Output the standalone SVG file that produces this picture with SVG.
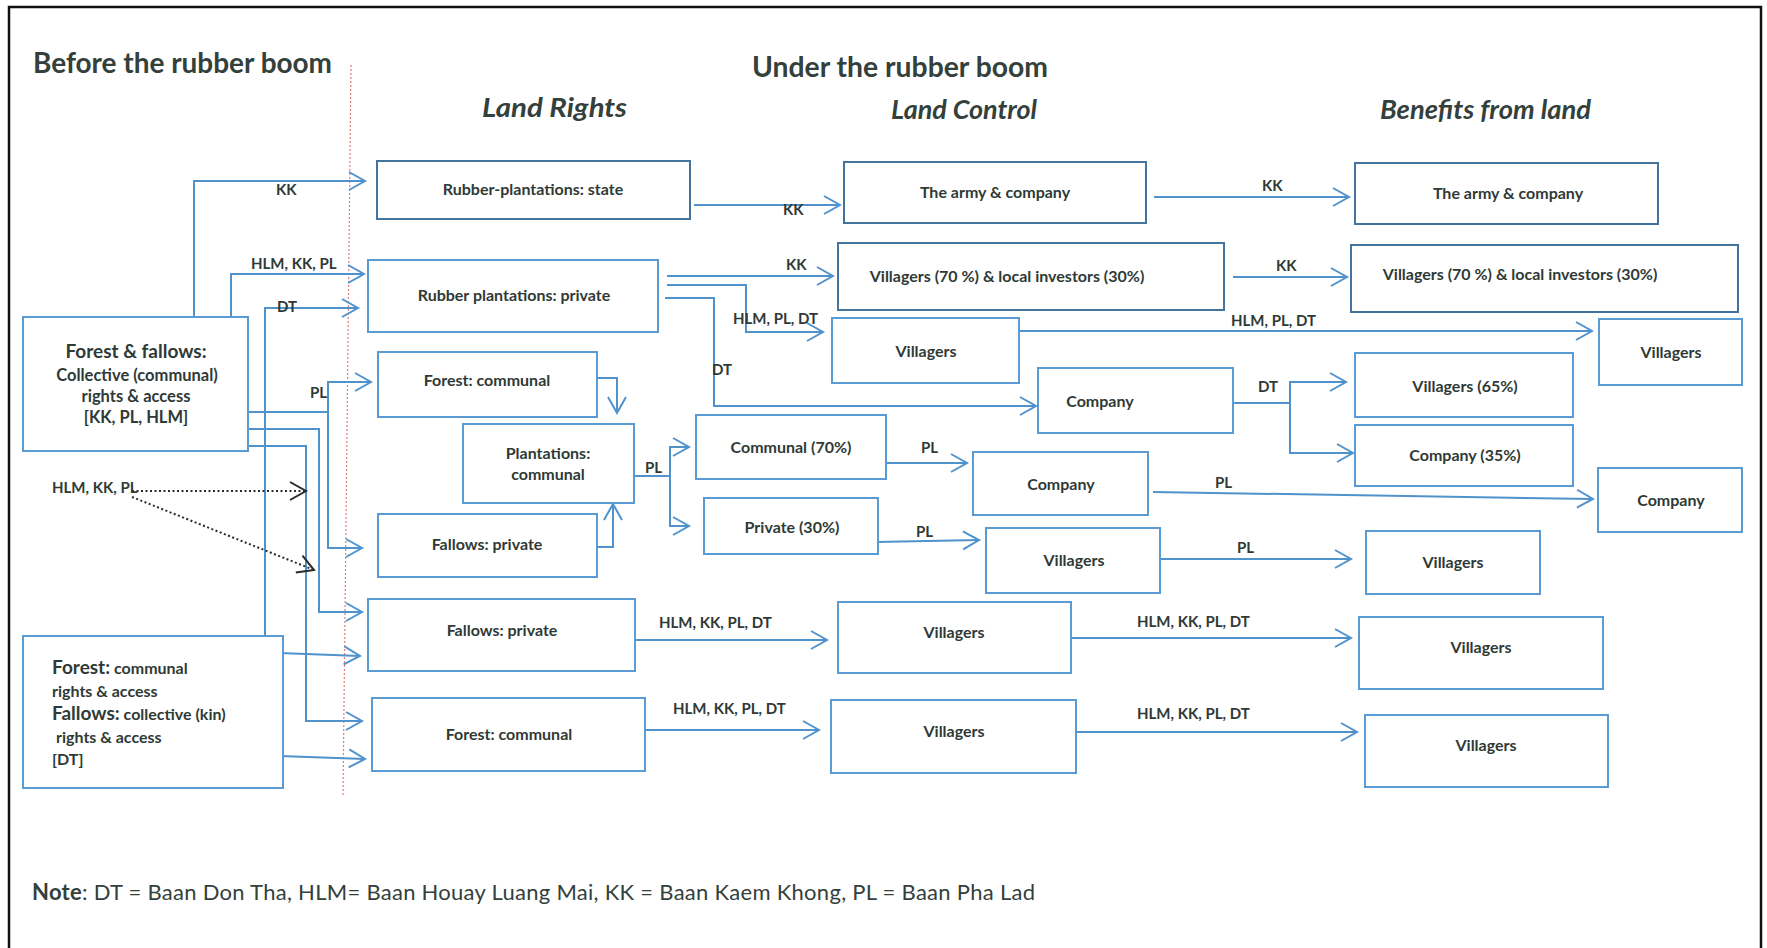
<svg xmlns="http://www.w3.org/2000/svg" width="1767" height="948" viewBox="0 0 1767 948">
<defs>
<marker id="ar" markerUnits="userSpaceOnUse" markerWidth="20" markerHeight="22" viewBox="0 0 20 22" refX="17" refY="11" orient="auto"><path d="M1,2 L17,11 L1,20" fill="none" stroke="#4f92cc" stroke-width="2"/></marker>
<marker id="ad" markerUnits="userSpaceOnUse" markerWidth="20" markerHeight="22" viewBox="0 0 20 22" refX="17" refY="11" orient="auto"><path d="M1,2 L17,11 L1,20" fill="none" stroke="#2a2a2a" stroke-width="2"/></marker>
</defs>
<style>
.bx{fill:#fff;stroke:#5a9bd3;stroke-width:2}
.bd{fill:#fff;stroke:#44739e;stroke-width:2}
.t{font-family:Lato,"Liberation Sans",sans-serif;font-weight:bold;font-size:16px;fill:#2f3a36;text-anchor:middle}
.ts{font-family:Lato,"Liberation Sans",sans-serif;font-weight:bold;font-size:16px;fill:#2f3a36;text-anchor:start}
.l{font-family:Lato,"Liberation Sans",sans-serif;font-weight:bold;font-size:15px;fill:#2f3a36}
.h{font-family:Lato,"Liberation Sans",sans-serif;font-weight:bold;font-size:28px;fill:#34403b}
.hi{font-family:Lato,"Liberation Sans",sans-serif;font-weight:bold;font-style:italic;font-size:27px;fill:#34403b}
.c{fill:none;stroke:#4f92cc;stroke-width:2}
.d{fill:none;stroke:#2a2a2a;stroke-width:2;stroke-dasharray:2,2.5}
</style>
<rect width="1767" height="948" fill="#fff"/>
<rect x="9" y="7" width="1752" height="960" fill="none" stroke="#111" stroke-width="2.5"/>
<line x1="351" y1="65" x2="343" y2="797" stroke="#e27a7a" stroke-width="1.2" stroke-dasharray="2,2"/>

<g id="titles">
<text class="h" x="33" y="73" textLength="299" lengthAdjust="spacingAndGlyphs">Before the rubber boom</text>
<text class="h" x="752" y="77" textLength="296" lengthAdjust="spacingAndGlyphs">Under the rubber boom</text>
<text class="hi" x="482" y="117" textLength="145" lengthAdjust="spacingAndGlyphs">Land Rights</text>
<text class="hi" x="891" y="119" textLength="146" lengthAdjust="spacingAndGlyphs">Land Control</text>
<text class="hi" x="1380" y="119" textLength="211" lengthAdjust="spacingAndGlyphs">Benefits from land</text>
</g>

<g id="connectors">
<path class="c" d="M194,317 V181 H365" marker-end="url(#ar)"/>
<path class="c" d="M231,317 V274 H364" marker-end="url(#ar)"/>
<path class="c" d="M265,636 V308 H358" marker-end="url(#ar)"/>
<path class="c" d="M248,412 H328 V382 H371" marker-end="url(#ar)"/>
<path class="c" d="M328,412 V548 H362" marker-end="url(#ar)"/>
<path class="c" d="M248,429 H319 V612 H362" marker-end="url(#ar)"/>
<path class="c" d="M248,446 H306 V721 H362" marker-end="url(#ar)"/>
<path class="c" d="M279,653 L360,656" marker-end="url(#ar)"/>
<path class="c" d="M279,756 L365,759" marker-end="url(#ar)"/>
<path class="d" d="M132,491 H306" marker-end="url(#ad)"/>
<path class="d" d="M132,497 L314,570" marker-end="url(#ad)"/>
<path class="c" d="M597,378 H617 V413" marker-end="url(#ar)"/>
<path class="c" d="M597,547 H613 V504" marker-end="url(#ar)"/>
<path class="c" d="M634,476 H670 V447 H689" marker-end="url(#ar)"/>
<path class="c" d="M670,476 V526 H689" marker-end="url(#ar)"/>
<path class="c" d="M694,205 H840" marker-end="url(#ar)"/>
<path class="c" d="M667,276 H833" marker-end="url(#ar)"/>
<path class="c" d="M667,285 H746 V332 H823" marker-end="url(#ar)"/>
<path class="c" d="M665,298 H714 V406 H1036" marker-end="url(#ar)"/>
<path class="c" d="M884,463 H967" marker-end="url(#ar)"/>
<path class="c" d="M876,542 L979,540" marker-end="url(#ar)"/>
<path class="c" d="M635,640 H827" marker-end="url(#ar)"/>
<path class="c" d="M645,730 H819" marker-end="url(#ar)"/>
<path class="c" d="M1154,197 H1349" marker-end="url(#ar)"/>
<path class="c" d="M1233,277 H1347" marker-end="url(#ar)"/>
<path class="c" d="M1019,331 H1592" marker-end="url(#ar)"/>
<path class="c" d="M1233,403 H1290 V382 H1346" marker-end="url(#ar)"/>
<path class="c" d="M1290,403 V453 H1353" marker-end="url(#ar)"/>
<path class="c" d="M1153,492 L1593,499" marker-end="url(#ar)"/>
<path class="c" d="M1160,559 H1351" marker-end="url(#ar)"/>
<path class="c" d="M1071,638 H1351" marker-end="url(#ar)"/>
<path class="c" d="M1076,732 H1357" marker-end="url(#ar)"/>
<text class="l" x="276" y="195">KK</text>
<text class="l" x="251" y="269">HLM, KK, PL</text>
<text class="l" x="277" y="312">DT</text>
<text class="l" x="310" y="398">PL</text>
<text class="l" x="52" y="493">HLM, KK, PL</text>
<text class="l" x="645" y="473">PL</text>
<text class="l" x="783" y="215">KK</text>
<text class="l" x="786" y="270">KK</text>
<text class="l" x="733" y="324">HLM, PL, DT</text>
<text class="l" x="712" y="375">DT</text>
<text class="l" x="921" y="453">PL</text>
<text class="l" x="916" y="537">PL</text>
<text class="l" x="659" y="628">HLM, KK, PL, DT</text>
<text class="l" x="673" y="714">HLM, KK, PL, DT</text>
<text class="l" x="1262" y="191">KK</text>
<text class="l" x="1276" y="271">KK</text>
<text class="l" x="1231" y="326">HLM, PL, DT</text>
<text class="l" x="1258" y="392">DT</text>
<text class="l" x="1215" y="488">PL</text>
<text class="l" x="1237" y="553">PL</text>
<text class="l" x="1137" y="627">HLM, KK, PL, DT</text>
<text class="l" x="1137" y="719">HLM, KK, PL, DT</text>
</g>

<g id="n-before-1">
<rect class="bx" x="23" y="317" width="225" height="134"/>
<text class="t" x="136" y="358" style="font-size:19px">Forest &amp; fallows:</text>
<text class="t" x="137" y="381" style="font-size:16.5px">Collective (communal)</text>
<text class="t" x="136" y="402" style="font-size:16.5px">rights &amp; access</text>
<text class="t" x="136" y="423" style="font-size:16.5px">[KK, PL, HLM]</text>
</g>
<g id="n-before-2">
<rect class="bx" x="23" y="636" width="260" height="152"/>
<text class="ts" x="52" y="674"><tspan style="font-size:19px">Forest:</tspan> communal</text>
<text class="ts" x="52" y="697">rights &amp; access</text>
<text class="ts" x="52" y="720"><tspan style="font-size:19px">Fallows:</tspan> collective (kin)</text>
<text class="ts" x="56" y="743">rights &amp; access</text>
<text class="ts" x="52" y="765">[DT]</text>
</g>

<g id="n-lr-state"><rect class="bd" x="377" y="161" width="313" height="58"/><text class="t" x="533" y="195">Rubber-plantations: state</text></g>
<g id="n-lr-private"><rect class="bx" x="368" y="260" width="290" height="72"/><text class="t" x="514" y="301">Rubber plantations: private</text></g>
<g id="n-lr-forest1"><rect class="bx" x="378" y="352" width="219" height="65"/><text class="t" x="487" y="386">Forest: communal</text></g>
<g id="n-lr-plant"><rect class="bx" x="463" y="424" width="171" height="79"/><text class="t" x="548" y="459">Plantations:</text><text class="t" x="548" y="480">communal</text></g>
<g id="n-lr-fallow1"><rect class="bx" x="378" y="514" width="219" height="63"/><text class="t" x="487" y="550">Fallows: private</text></g>
<g id="n-lr-fallow2"><rect class="bx" x="368" y="599" width="267" height="72"/><text class="t" x="502" y="636">Fallows: private</text></g>
<g id="n-lr-forest2"><rect class="bx" x="372" y="698" width="273" height="73"/><text class="t" x="509" y="740">Forest: communal</text></g>
<g id="n-lr-comm70"><rect class="bx" x="696" y="415" width="190" height="64"/><text class="t" x="791" y="453">Communal (70%)</text></g>
<g id="n-lr-priv30"><rect class="bx" x="704" y="498" width="174" height="56"/><text class="t" x="792" y="533">Private (30%)</text></g>

<g id="n-lc-army"><rect class="bd" x="844" y="162" width="302" height="61"/><text class="t" x="995" y="198">The army &amp; company</text></g>
<g id="n-lc-vil70"><rect class="bd" x="838" y="243" width="386" height="67"/><text class="t" x="1007" y="282">Villagers (70 %) &amp; local investors (30%)</text></g>
<g id="n-lc-vil1"><rect class="bx" x="832" y="318" width="187" height="65"/><text class="t" x="926" y="357">Villagers</text></g>
<g id="n-lc-comp1"><rect class="bx" x="1038" y="368" width="195" height="65"/><text class="t" x="1100" y="407">Company</text></g>
<g id="n-lc-comp2"><rect class="bx" x="973" y="452" width="175" height="63"/><text class="t" x="1061" y="490">Company</text></g>
<g id="n-lc-vil2"><rect class="bx" x="986" y="528" width="174" height="65"/><text class="t" x="1074" y="566">Villagers</text></g>
<g id="n-lc-vil3"><rect class="bx" x="838" y="602" width="233" height="71"/><text class="t" x="954" y="638">Villagers</text></g>
<g id="n-lc-vil4"><rect class="bx" x="831" y="700" width="245" height="73"/><text class="t" x="954" y="737">Villagers</text></g>

<g id="n-bf-army"><rect class="bd" x="1355" y="163" width="303" height="61"/><text class="t" x="1508" y="199">The army &amp; company</text></g>
<g id="n-bf-vil70"><rect class="bd" x="1351" y="245" width="387" height="67"/><text class="t" x="1520" y="280">Villagers (70 %) &amp; local investors (30%)</text></g>
<g id="n-bf-vil1"><rect class="bx" x="1599" y="319" width="143" height="66"/><text class="t" x="1671" y="358">Villagers</text></g>
<g id="n-bf-vil65"><rect class="bx" x="1355" y="353" width="218" height="64"/><text class="t" x="1465" y="392">Villagers (65%)</text></g>
<g id="n-bf-comp35"><rect class="bx" x="1355" y="425" width="218" height="61"/><text class="t" x="1465" y="461">Company (35%)</text></g>
<g id="n-bf-comp"><rect class="bx" x="1598" y="468" width="144" height="64"/><text class="t" x="1671" y="506">Company</text></g>
<g id="n-bf-vil2"><rect class="bx" x="1366" y="531" width="174" height="63"/><text class="t" x="1453" y="568">Villagers</text></g>
<g id="n-bf-vil3"><rect class="bx" x="1359" y="617" width="244" height="72"/><text class="t" x="1481" y="653">Villagers</text></g>
<g id="n-bf-vil4"><rect class="bx" x="1365" y="715" width="243" height="72"/><text class="t" x="1486" y="751">Villagers</text></g>

<g id="note">
<text x="32" y="900" font-family="Lato,'Liberation Sans',sans-serif" font-size="22" fill="#34403b" textLength="1003" lengthAdjust="spacing"><tspan font-weight="bold">Note</tspan>: DT = Baan Don Tha, HLM= Baan Houay Luang Mai, KK = Baan Kaem Khong, PL = Baan Pha Lad</text>
</g>
</svg>
